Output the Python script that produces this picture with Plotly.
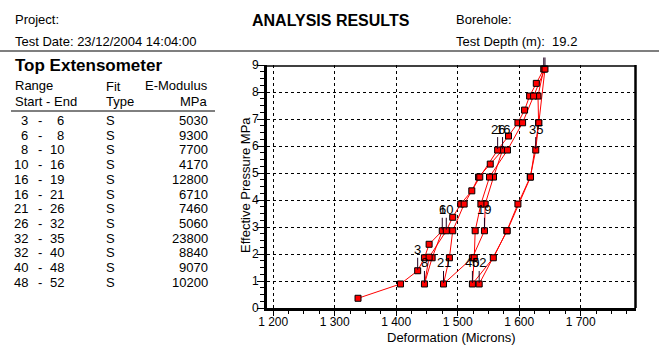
import plotly.graph_objects as go

W, H = 659, 358
FONT = "Liberation Sans, Arial, sans-serif"

# ---------------- data ----------------
point_no = list(range(1, 53))
deformation = [1338, 1407, 1435, 1446, 1453.6, 1475, 1458.5, 1446, 1453.6, 1481.5,
               1492, 1505, 1523, 1534, 1553, 1573, 1558.3, 1544.8, 1543.6, 1524,
               1477, 1486.6, 1492, 1510.6, 1536, 1565, 1582.7, 1598, 1608.8, 1617,
               1627.9, 1640, 1630.6, 1631.6, 1627, 1618, 1598, 1580, 1558, 1524,
               1527, 1528.5, 1537.8, 1551.8, 1581, 1605.6, 1623.5, 1642, 1632, 1618.5,
               1580.5, 1535]
pressure = [0.36, 0.89, 1.38, 1.86, 2.36, 2.86, 1.86, 0.89, 1.88, 2.86,
            3.36, 3.85, 4.34, 4.85, 5.33, 5.85, 4.85, 3.85, 2.86, 1.86,
            0.89, 1.86, 2.86, 3.85, 4.85, 5.85, 6.37, 6.86, 7.33, 7.85,
            8.32, 8.85, 7.85, 6.86, 5.85, 4.85, 3.85, 2.86, 1.86, 0.89,
            1.86, 2.86, 3.85, 4.85, 5.85, 6.86, 7.85, 8.85, 6.86, 4.85,
            2.86, 0.89]
labelled_points = [3, 6, 8, 10, 16, 19, 21, 26, 35, 40, 52]
clipped_label_points = [32, 48]

range_start = [3, 6, 8, 10, 16, 16, 21, 26, 32, 32, 40, 48]
range_end = [6, 8, 10, 16, 19, 21, 26, 32, 35, 40, 48, 52]
fit_type = ["S"] * 12
e_modulus = [5030, 9300, 7700, 4170, 12800, 6710, 7460, 5060, 23800, 8840, 9070, 10200]

x_tick_vals = [1200, 1300, 1400, 1500, 1600, 1700]
x_tick_text = ["1 200", "1 300", "1 400", "1 500", "1 600", "1 700"]
y_tick_vals = [0, 1, 2, 3, 4, 5, 6, 7, 8, 9]
x_range = [1190, 1790]
y_range = [0, 9]

# ---------------- layout helpers ----------------
def px(x):
    return x / W

def py(y):
    return 1 - y / H

PLOT_L, PLOT_R, PLOT_T, PLOT_B = 267, 636, 65, 308

fig = go.Figure()
fig.add_trace(go.Scatter(
    x=deformation, y=pressure, mode="lines+markers",
    line=dict(color="#ff0000", width=1),
    marker=dict(symbol="square", size=6, color="#ff0000",
                line=dict(color="#000000", width=1)),
    hoverinfo="x+y", showlegend=False))

annotations = []
shapes = []

# point labels with leader lines
for n in labelled_points:
    i = n - 1
    annotations.append(dict(x=deformation[i], y=pressure[i], xref="x", yref="y",
                            text=str(n), showarrow=False, yshift=21,
                            font=dict(family=FONT, size=13, color="black"),
                            xanchor="center", yanchor="middle"))
    shapes.append(dict(type="line", xref="x", yref="y", ysizemode="pixel",
                       yanchor=pressure[i], x0=deformation[i], x1=deformation[i],
                       y0=1, y1=13, line=dict(color="#200020", width=1)))
for n in clipped_label_points:
    i = n - 1
    shapes.append(dict(type="line", xref="x", yref="paper",
                       x0=deformation[i], x1=deformation[i],
                       y0=py(57.5), y1=py(67), line=dict(color="#200020", width=1)))

# chart frame (top & right)
shapes.append(dict(type="line", xref="paper", yref="paper", x0=px(PLOT_L), x1=px(PLOT_R),
                   y0=py(66), y1=py(66), line=dict(color="black", width=1.5)))
shapes.append(dict(type="line", xref="paper", yref="paper", x0=px(635.5), x1=px(635.5),
                   y0=py(PLOT_T), y1=py(PLOT_B), line=dict(color="black", width=2.5)))

# header
shapes.append(dict(type="line", xref="paper", yref="paper", x0=0, x1=1,
                   y0=py(51), y1=py(51), line=dict(color="black", width=1.2)))

def text(x, y, s, size=13, anchor="left", bold=False, angle=0):
    annotations.append(dict(x=px(x), y=py(y), xref="paper", yref="paper", text=s,
                            showarrow=False, xanchor=anchor, yanchor="middle",
                            textangle=angle,
                            font=dict(family=FONT, size=size, color="black",
                                      weight="bold" if bold else "normal")))

text(13, 19, "Project:")
text(13, 41, "Test Date: 23/12/2004 14:04:00")
text(331, 20, "ANALYSIS RESULTS", size=16, anchor="center", bold=True)
text(454, 19, "Borehole:")
text(454, 41, "Test Depth (m):\u00a0 19.2")

# table
text(13, 65, "Top Extensometer", size=17, bold=True)
text(13, 85, "Range")
text(13, 101, "Start - End")
text(104, 86, "Fit")
text(104, 101, "Type")
text(210, 85, "E-Modulus", anchor="right")
text(210, 101, "MPa", anchor="right")
shapes.append(dict(type="line", xref="paper", yref="paper", x0=px(11), x1=px(215),
                   y0=py(111), y1=py(111), line=dict(color="black", width=1)))
row_y0, row_dy = 120.5, 14.7
for k in range(len(range_start)):
    yy = row_y0 + k * row_dy
    text(30, yy, str(range_start[k]), anchor="right")
    text(40, yy, "-", anchor="center")
    text(66, yy, str(range_end[k]), anchor="right")
    text(104, yy, fit_type[k])
    text(210, yy, str(e_modulus[k]), anchor="right")

# axis titles
text(451, 337, "Deformation (Microns)", anchor="center")
annotations.append(dict(x=px(245), y=py(185), xref="paper", yref="paper",
                        text="Effective Pressure MPa", showarrow=False, textangle=-90,
                        xanchor="center", yanchor="middle",
                        font=dict(family=FONT, size=13, color="black")))

fig.update_layout(
    width=W, height=H, margin=dict(l=0, r=0, t=0, b=0, autoexpand=False),
    paper_bgcolor="white", plot_bgcolor="white",
    font=dict(family=FONT, size=12, color="black"),
    annotations=annotations, shapes=shapes, showlegend=False,
    xaxis=dict(domain=[px(PLOT_L), px(PLOT_R)], range=x_range, automargin=False,
               tickvals=x_tick_vals, ticktext=x_tick_text,
               ticks="outside", ticklen=5, tickwidth=1, tickcolor="black",
               ticklabelstandoff=-4,
               showline=True, linewidth=3, linecolor="black", mirror=False,
               showgrid=True, gridcolor="black", gridwidth=1, griddash="3px,3px",
               zeroline=False, tickfont=dict(family=FONT, size=12, color="black"),
               minor=dict(dtick=25, tick0=1200, ticks="outside", ticklen=3,
                          tickcolor="black", showgrid=False)),
    yaxis=dict(domain=[py(PLOT_B), py(PLOT_T)], range=y_range, automargin=False,
               tickvals=y_tick_vals,
               ticks="outside", ticklen=7, tickwidth=1, tickcolor="black",
               ticklabelstandoff=-4,
               showline=True, linewidth=3, linecolor="black", mirror=False,
               showgrid=True, gridcolor="black", gridwidth=1, griddash="3px,3px",
               zeroline=False, tickfont=dict(family=FONT, size=12, color="black"),
               minor=dict(dtick=0.25, tick0=0, ticks="outside", ticklen=4,
                          tickcolor="black", showgrid=False)),
)

fig.write_html("out.html", config={"displayModeBar": False},
               post_script="document.body.style.margin='0';document.body.style.overflow='hidden';")
